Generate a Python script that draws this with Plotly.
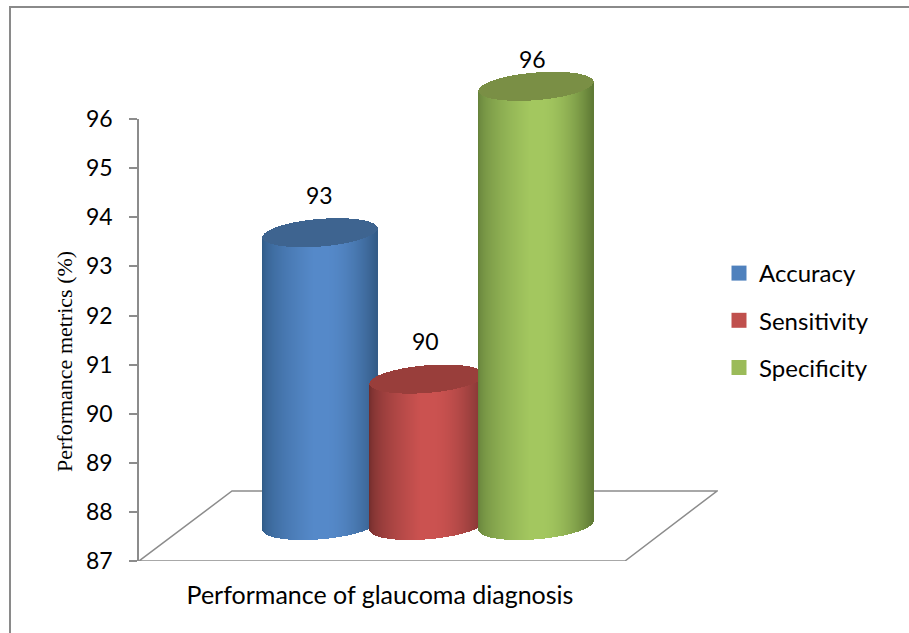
import numpy as np
import plotly.graph_objects as go

# Data
CATEGORY_LABEL = "Performance of glaucoma diagnosis"
SERIES = ["Accuracy", "Sensitivity", "Specificity"]
VALUES = [93, 90, 96]
Y_TICKS = [87, 88, 89, 90, 91, 92, 93, 94, 95, 96]

# Styling
SWATCH = ["#4f81bd", "#c0504d", "#9bbb59"]
BRIGHT = ["#5589c9", "#cb5250", "#a3c75f"]
EDGE_L = ["#2f5985", "#6e2c2b", "#64803a"]
EDGE_R = ["#345c88", "#7d3432", "#5f7a35"]
CAP = ["#3e6490", "#993e3b", "#7a8f45"]
CENTERS = [320, 427, 536]
LABEL_SHIFT = [38, 38, 27]
LABEL_X_SHIFT = [-1, -2, -4]
HALF_W = 57
MINOR = 13.8
TILT = 4.5
GRAY = "#8c8c8c"
W, H = 909, 633
L, R, T, B = 139, 191, 40, 72
PLOT_W = W - L - R
PLOT_H = H - T - B
AXIS_PX_PER_UNIT = 49.1
BAR_PX_PER_UNIT = 48.8
BAR_BASE_PX_ABOVE_AXIS = 35.5
FONT = "Lato, Carlito, Calibri, sans-serif"


def rgb(h):
    return np.array([int(h[i:i + 2], 16) for i in (1, 3, 5)], dtype=float)


def shade(left, mid, right, f):
    a, b = (rgb(left), rgb(mid)) if f < 0.45 else (rgb(mid), rgb(right))
    t = f / 0.45 if f < 0.45 else (f - 0.55) / 0.45
    t = min(max(t, 0), 1)
    t = t ** 0.55 if f < 0.45 else t ** 1.8
    c = a + (b - a) * t
    return f"rgb({c[0]:.0f},{c[1]:.0f},{c[2]:.0f})"


fig = go.Figure()

# Tick axis + legend entries
for name, col in zip(SERIES, SWATCH):
    fig.add_trace(go.Scatter(
        x=[None], y=[None], name=name, mode="markers", legendgroup=name,
        marker=dict(symbol="square", size=15, color=col), xaxis="x", yaxis="y",
    ))

# Cylinders: body then cap for each series, as strips of bars
base_value = Y_TICKS[0]
for i, v in enumerate(VALUES):
    cx = CENTERS[i]
    xs = np.arange(cx - HALF_W, cx + HALF_W + 1, 1.0)
    u = np.clip((xs - cx) / HALF_W, -0.998, 0.998)
    sq = MINOR * np.sqrt(1 - u ** 2)
    s = BAR_PX_PER_UNIT
    bottom = base_value - (sq - TILT * u) / s
    body_top = v + TILT * u / s
    fig.add_trace(go.Bar(
        x=xs, y=body_top - bottom, base=bottom, width=1.25,
        marker=dict(color=[shade(EDGE_L[i], BRIGHT[i], EDGE_R[i], (a + 1) / 2) for a in u], line_width=0),
        xaxis="x2", yaxis="y2", showlegend=False, hoverinfo="skip",
    ))
    cap_low = v + (TILT * u - sq) / s
    cap_high = v + (TILT * u + sq) / s
    fig.add_trace(go.Bar(
        x=xs, y=cap_high - cap_low, base=cap_low, width=1.25,
        marker=dict(color=CAP[i], line_width=0),
        xaxis="x2", yaxis="y2", showlegend=False, hoverinfo="skip",
    ))

annotations = [
    dict(x=c, y=v, xref="x2", yref="y2", text=str(v), showarrow=False,
         yshift=ys, xshift=xsft, font=dict(family=FONT, size=23, color="#000"))
    for c, v, ys, xsft in zip(CENTERS, VALUES, LABEL_SHIFT, LABEL_X_SHIFT)
]
annotations.append(dict(
    x=(64 - L) / PLOT_W, y=(H - B - 362) / PLOT_H, xref="paper", yref="paper",
    text="Performance metrics (%)", textangle=-90, showarrow=False,
    xanchor="center", yanchor="middle",
    font=dict(family="Liberation Serif, serif", size=22, color="#000"),
))

# Floor parallelogram, in axis units
u0 = Y_TICKS[0]
floor_back = u0 + 70 / AXIS_PX_PER_UNIT
floor = f"M 139,{u0} L 232,{floor_back} L 717,{floor_back} L 625,{u0} Z"
shapes = [
    dict(type="path", path=floor, xref="x", yref="y", line=dict(color=GRAY, width=1.5), layer="below"),
    # outer frame: only its top and left edges fall inside the picture
    dict(type="rect", xref="paper", yref="paper",
         x0=(10 - L) / PLOT_W, x1=(930 - L) / PLOT_W,
         y0=(H - B - 660) / PLOT_H, y1=(H - B - 7) / PLOT_H,
         line=dict(color="#8a8a8a", width=2), layer="below"),
]

y_dom = (Y_TICKS[-1] - Y_TICKS[0]) * AXIS_PX_PER_UNIT / PLOT_H
y2_low = base_value - BAR_BASE_PX_ABOVE_AXIS / BAR_PX_PER_UNIT

fig.update_layout(
    width=W, height=H, margin=dict(l=L, r=R, t=T, b=B),
    paper_bgcolor="white", plot_bgcolor="rgba(0,0,0,0)",
    barmode="overlay", bargap=0,
    font=dict(family=FONT, size=23, color="#000"),
    showlegend=True,
    legend=dict(x=(719 - L) / PLOT_W, y=(H - B - 251) / PLOT_H, xanchor="left", yanchor="top",
                traceorder="grouped", tracegroupgap=13,
                font=dict(family=FONT, size=24), bgcolor="rgba(0,0,0,0)"),
    xaxis=dict(domain=[0, 1], range=[L, W - R], anchor="y", showgrid=False, zeroline=False,
               showline=False, tickmode="array", tickvals=[380], ticktext=[CATEGORY_LABEL],
               ticks="", ticklabelstandoff=17, tickfont=dict(family=FONT, size=25)),
    yaxis=dict(domain=[0, y_dom], range=[Y_TICKS[0], Y_TICKS[-1]], anchor="x", tickmode="array",
               tickvals=Y_TICKS, ticktext=[str(t) for t in Y_TICKS],
               showgrid=False, zeroline=False, showline=True, linecolor=GRAY, linewidth=1.5,
               ticks="outside", ticklen=8, tickcolor=GRAY, tickwidth=1.5, ticklabelstandoff=12,
               tickfont=dict(family=FONT, size=23)),
    xaxis2=dict(domain=[0, 1], range=[L, W - R], anchor="y2", visible=False),
    yaxis2=dict(domain=[0, 1], range=[y2_low, y2_low + PLOT_H / BAR_PX_PER_UNIT], anchor="x2", visible=False),
    annotations=annotations, shapes=shapes,
)

fig.write_html("out.html", config=dict(displayModeBar=False),
               post_script="document.body.style.margin='0';document.body.style.overflow='hidden';")
